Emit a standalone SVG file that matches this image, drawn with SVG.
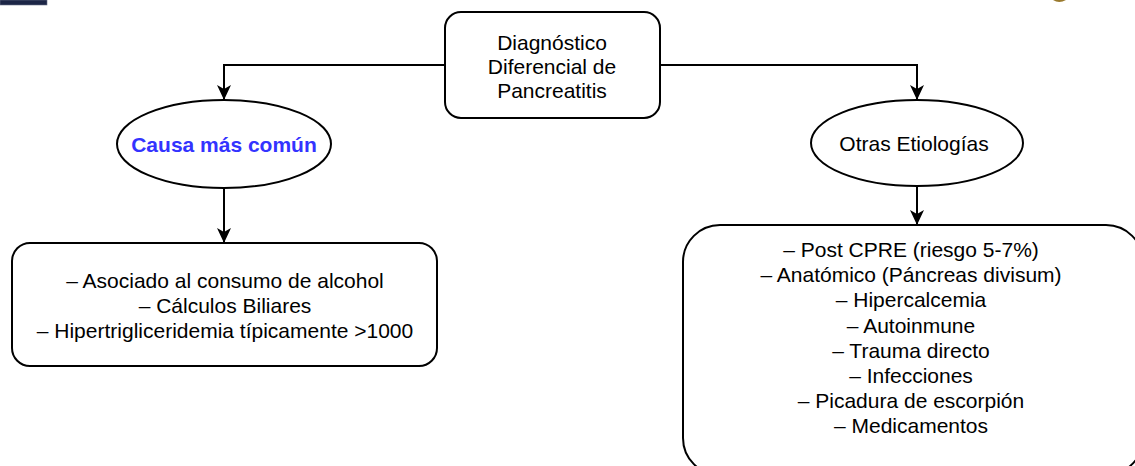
<svg xmlns="http://www.w3.org/2000/svg" width="1135" height="466" viewBox="0 0 1135 466">
<style>
.box{fill:#fff;stroke:#000;stroke-width:2}
.t{font-family:"Liberation Sans",Arial,Helvetica,sans-serif;font-size:21px;fill:#000;text-anchor:middle}
.b{font-weight:bold;fill:#3333FF}
.c{fill:none;stroke:#000;stroke-width:2}
</style>
<defs>
<marker id="arr" markerUnits="userSpaceOnUse" markerWidth="16" markerHeight="16" refX="15" refY="7" orient="auto" viewBox="0 0 16 14">
<path d="M15,7 L0,0 L4,7 L0,14 Z" fill="#000"/>
</marker>
</defs>
<rect width="1135" height="466" fill="#fff"/>
<rect x="0" y="0" width="47" height="5" fill="#1c2546" stroke="#6a7088" stroke-width="0.6"/>
<path d="M1053,0 Q1059,4 1066,0 Z" fill="#9a7a2e"/>
<g id="connectors">
<path class="c" d="M445,65 H224 V100" marker-end="url(#arr)"/>
<path class="c" d="M660,65 H917 V100" marker-end="url(#arr)"/>
<path class="c" d="M224,188 V243" marker-end="url(#arr)"/>
<path class="c" d="M917,187 V225" marker-end="url(#arr)"/>
</g>
<g id="root">
<rect class="box" x="445" y="12" width="215" height="106" rx="16"/>
<text class="t" x="552" y="50">Diagnóstico</text>
<text class="t" x="552" y="74">Diferencial de</text>
<text class="t" x="552" y="98">Pancreatitis</text>
</g>
<g id="causa">
<ellipse class="box" cx="224" cy="144" rx="107" ry="44"/>
<text class="t b" x="224" y="152">Causa más común</text>
</g>
<g id="otras">
<ellipse class="box" cx="917" cy="143" rx="106" ry="43"/>
<text class="t" x="914" y="151">Otras Etiologías</text>
</g>
<g id="comunes">
<rect class="box" x="12" y="243" width="425" height="123" rx="18"/>
<text class="t" x="225" y="288">– Asociado al consumo de alcohol</text>
<text class="t" x="225" y="313">– Cálculos Biliares</text>
<text class="t" x="225" y="338">– Hipertrigliceridemia típicamente &gt;1000</text>
</g>
<g id="etiologias">
<rect class="box" x="683" y="225" width="460" height="250" rx="37"/>
<text class="t" x="911" y="257">– Post CPRE (riesgo 5-7%)</text>
<text class="t" x="911" y="282">– Anatómico (Páncreas divisum)</text>
<text class="t" x="911" y="307">– Hipercalcemia</text>
<text class="t" x="911" y="333">– Autoinmune</text>
<text class="t" x="911" y="358">– Trauma directo</text>
<text class="t" x="911" y="383">– Infecciones</text>
<text class="t" x="911" y="408">– Picadura de escorpión</text>
<text class="t" x="911" y="433">– Medicamentos</text>
</g>
</svg>
